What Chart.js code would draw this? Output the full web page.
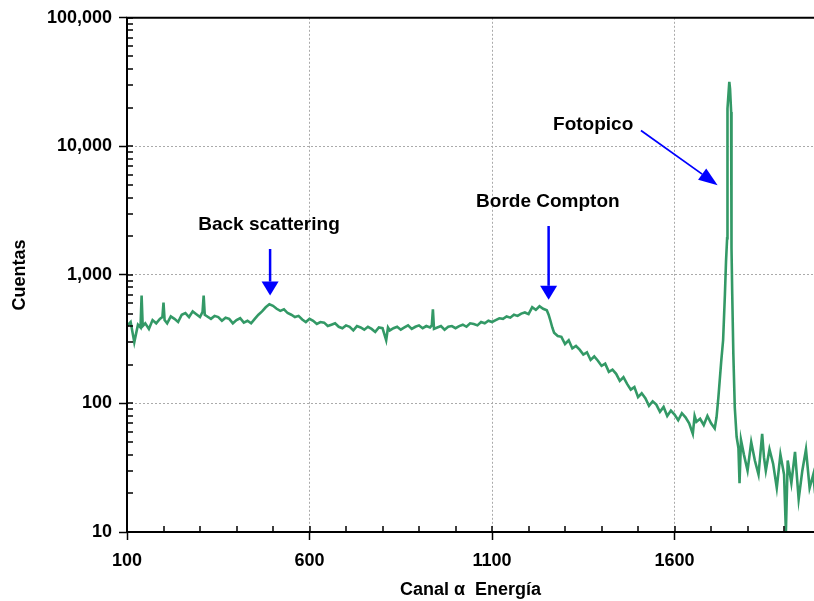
<!DOCTYPE html>
<html>
<head>
<meta charset="utf-8">
<script src="https://cdn.jsdelivr.net/npm/chart.js@4.4.0/dist/chart.umd.min.js"></script>
<style>
  html, body { margin: 0; padding: 0; background: #fff; }
</style>
</head>
<body>
<canvas id="spectrum" width="814" height="601"></canvas>
<script>
// channel numbers and counts
var channels = [
  100, 110, 120, 130, 137, 140, 143, 150, 160, 170,
  180, 190, 197, 200, 203, 210, 220, 230, 240, 250,
  260, 270, 280, 290, 300, 307, 310, 313, 320, 330,
  340, 350, 360, 370, 380, 390, 400, 410, 420, 430,
  440, 450, 460, 470, 480, 490, 500, 510, 520, 530,
  540, 550, 560, 570, 580, 590, 600, 610, 620, 630,
  640, 650, 660, 670, 680, 690, 700, 710, 720, 730,
  740, 750, 760, 770, 780, 790, 800, 810, 815, 820,
  830, 840, 850, 860, 870, 880, 890, 900, 910, 920,
  930, 935, 938, 941, 950, 960, 970, 980, 990, 1000,
  1010, 1020, 1030, 1040, 1050, 1060, 1070, 1080, 1090, 1100,
  1110, 1120, 1130, 1140, 1150, 1160, 1170, 1180, 1190, 1200,
  1210, 1220, 1230, 1240, 1250, 1255, 1260, 1265, 1270, 1280,
  1290, 1300, 1310, 1320, 1330, 1340, 1350, 1360, 1370, 1380,
  1390, 1400, 1410, 1420, 1430, 1440, 1450, 1460, 1470, 1480,
  1490, 1500, 1510, 1520, 1530, 1540, 1550, 1560, 1570, 1580,
  1590, 1600, 1610, 1620, 1630, 1640, 1650, 1655, 1660, 1670,
  1680, 1690, 1700, 1710, 1715, 1720, 1728, 1733, 1738, 1741,
  1744, 1745, 1750, 1752, 1755, 1756, 1758, 1761, 1765, 1770,
  1775, 1778, 1782, 1790, 1800, 1810, 1820, 1830, 1840, 1845,
  1850, 1860, 1870, 1880, 1890, 1900, 1905, 1910, 1920, 1930,
  1940, 1950, 1960, 1970, 1980, 1985
];
var counts = [
  400, 430, 300, 410, 390, 690, 400, 420, 380, 445,
  420, 455, 470, 610, 445, 420, 475, 455, 430, 490,
  505, 470, 520, 495, 470, 515, 690, 490, 475, 455,
  480, 470, 440, 465, 455, 420, 445, 460, 425, 440,
  420, 455, 490, 520, 560, 590, 575, 545, 525, 540,
  505, 490, 470, 480, 450, 430, 455, 440, 415, 430,
  425, 400, 410, 420, 395, 385, 405, 395, 370, 400,
  390, 375, 395, 380, 360, 390, 385, 310, 390, 370,
  385, 395, 375, 390, 405, 380, 395, 405, 385, 400,
  390, 405, 540, 380, 390, 400, 375, 395, 400, 385,
  400, 410, 395, 420, 415, 405, 430, 420, 440, 430,
  445, 460, 455, 475, 465, 490, 480, 500, 510, 495,
  560, 535, 570, 545, 530, 490, 440, 390, 355, 335,
  330, 290, 310, 268, 280, 262, 240, 250, 218, 232,
  215, 196, 204, 176, 183, 170, 150, 160, 142, 128,
  134, 112, 120, 110, 96, 104, 98, 86, 94, 80,
  88, 82, 74, 84, 78, 70, 58, 80, 72, 76,
  68, 80, 70, 64, 78, 111, 215, 310, 710, 1280,
  1930, 19700, 31800, 28000, 18500, 1620, 710, 245, 93, 55,
  45, 24, 52, 40, 30, 50, 36, 28, 58, 38,
  30, 44, 34, 22, 40, 28, 10, 36, 24, 42,
  18, 30, 44, 22, 28, 20
];

var xTicks = [100, 600, 1100, 1600];
var yTicks = [10, 100, 1000, 10000, 100000];

// labels and arrows, placed in data units (channel, counts)
var notes = [
  { text: 'Back scattering', at: [489, 2440], from: [492, 1590], to: [492, 690], width: 2.5, head: 14, half: 8.5 },
  { text: 'Borde Compton', at: [1253, 3680], from: [1255, 2400], to: [1255, 640], width: 2.5, head: 14, half: 8.5 },
  { text: 'Fotopico', at: [1377, 14830], from: [1508, 13300], to: [1718, 4990], width: 1.8, head: 19, half: 7 }
];

var points = channels.map(function (c, i) { return { x: c, y: counts[i] }; });

function drawArrow(ctx, x1, y1, x2, y2, head, half, width) {
  var ang = Math.atan2(y2 - y1, x2 - x1);
  var bx = x2 - head * Math.cos(ang), by = y2 - head * Math.sin(ang);
  ctx.lineWidth = width;
  ctx.beginPath();
  ctx.moveTo(x1, y1);
  ctx.lineTo(bx, by);
  ctx.stroke();
  ctx.beginPath();
  ctx.moveTo(x2, y2);
  ctx.lineTo(bx + half * Math.sin(ang), by - half * Math.cos(ang));
  ctx.lineTo(bx - half * Math.sin(ang), by + half * Math.cos(ang));
  ctx.closePath();
  ctx.fill();
}

var framePlugin = {
  id: 'frame',
  afterDatasetsDraw: function (chart) {
    var ctx = chart.ctx, a = chart.chartArea, x = chart.scales.x, y = chart.scales.y;
    ctx.save();
    ctx.strokeStyle = '#000';
    ctx.lineWidth = 1.5;
    ctx.beginPath();
    // minor / inner ticks on the log axis
    for (var d = 10; d < 100000; d *= 10) {
      for (var m = 1; m <= 10; m++) {
        var py = Math.round(y.getPixelForValue(d * m));
        ctx.moveTo(a.left, py);
        ctx.lineTo(a.left + 6, py);
      }
    }
    for (var c = 200; c < x.max; c += 100) {
      var px = Math.round(x.getPixelForValue(c));
      ctx.moveTo(px, a.bottom);
      ctx.lineTo(px, a.bottom - 6);
    }
    ctx.stroke();

    ctx.lineWidth = 2;
    ctx.beginPath();
    ctx.moveTo(a.right, a.top);
    ctx.lineTo(a.left, a.top);
    ctx.lineTo(a.left, a.bottom);
    ctx.lineTo(a.right, a.bottom);
    ctx.stroke();

    // annotations
    ctx.font = 'bold 19px "Liberation Sans", Arial, sans-serif';
    ctx.textAlign = 'center';
    ctx.textBaseline = 'middle';
    notes.forEach(function (n) {
      ctx.fillStyle = '#000';
      ctx.fillText(n.text, x.getPixelForValue(n.at[0]), y.getPixelForValue(n.at[1]));
      ctx.strokeStyle = '#0000ff';
      ctx.fillStyle = '#0000ff';
      drawArrow(ctx,
        x.getPixelForValue(n.from[0]), y.getPixelForValue(n.from[1]),
        x.getPixelForValue(n.to[0]), y.getPixelForValue(n.to[1]),
        n.head, n.half, n.width);
    });
    ctx.restore();
  }
};

var tickFont = { family: '"Liberation Sans", Arial, sans-serif', size: 18, weight: 'bold' };

new Chart(document.getElementById('spectrum').getContext('2d'), {
  type: 'line',
  data: {
    datasets: [{
      data: points,
      borderColor: 'rgb(51, 153, 102)',
      borderWidth: 2.6,
      pointRadius: 0,
      tension: 0,
      fill: false
    }]
  },
  options: {
    responsive: false,
    animation: false,
    layout: { padding: { top: 16, right: 0, bottom: 0, left: 0 } },
    plugins: { legend: { display: false }, tooltip: { enabled: false } },
    scales: {
      x: {
        type: 'linear',
        min: 100,
        max: 1982,
        afterBuildTicks: function (s) { s.ticks = xTicks.map(function (v) { return { value: v }; }); },
        afterFit: function (s) { s.height = 69; },
        border: { display: false, dash: [2, 2] },
        grid: {
          color: function (c) { return c.tick && c.tick.value === 100 ? 'rgba(0,0,0,0)' : '#aaaaaa'; },
          lineWidth: 1,
          tickColor: '#000',
          tickWidth: 1.5,
          tickLength: 8,
          tickBorderDash: []
        },
        ticks: {
          autoSkip: false,
          maxRotation: 0,
          padding: 10,
          color: '#000',
          font: tickFont,
          callback: function (v) { return String(v); }
        },
        title: {
          display: true,
          text: 'Canal α  Energía',
          color: '#000',
          font: tickFont,
          padding: { top: 0, bottom: 0 }
        }
      },
      y: {
        type: 'logarithmic',
        min: 10,
        max: 100000,
        afterBuildTicks: function (s) { s.ticks = yTicks.map(function (v) { return { value: v }; }); },
        afterFit: function (s) { s.width = 127; },
        border: { display: false, dash: [2, 2] },
        grid: {
          color: function (c) {
            var v = c.tick && c.tick.value;
            return v === 10 || v === 100000 ? 'rgba(0,0,0,0)' : '#aaaaaa';
          },
          lineWidth: 1,
          tickColor: '#000',
          tickWidth: 1.5,
          tickLength: 8,
          tickBorderDash: []
        },
        ticks: {
          autoSkip: false,
          padding: 7,
          color: '#000',
          font: tickFont,
          callback: function (v) { return Number(v).toLocaleString('en-US'); }
        },
        title: {
          display: true,
          text: 'Cuentas',
          color: '#000',
          font: tickFont,
          padding: { top: 9, bottom: 0 }
        }
      }
    }
  },
  plugins: [framePlugin]
});
</script>
</body>
</html>
